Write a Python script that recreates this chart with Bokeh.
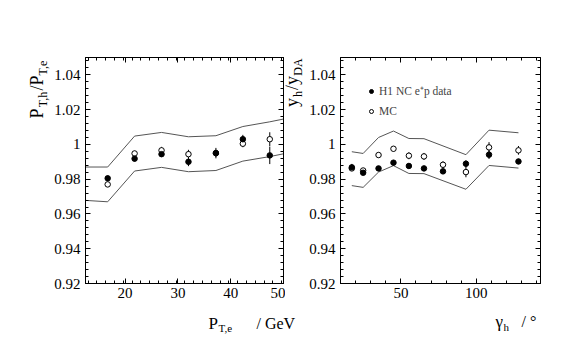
import numpy as np
from bokeh.plotting import figure
from bokeh.models import Range1d, LinearAxis, Legend, LegendItem, FixedTicker, ColumnDataSource
from bokeh.layouts import row, column
from bokeh.core.properties import value
from bokeh.embed import file_html
from bokeh.resources import INLINE

# ---- left panel: P_T,h / P_T,e vs P_T,e ----
pt_x = [16.7, 21.8, 26.9, 32.0, 37.2, 42.3, 47.4]
pt_data = [0.9805, 0.9918, 0.9944, 0.9900, 0.9950, 1.0030, 0.9937]
pt_data_err = [0.0015, 0.0015, 0.0015, 0.0025, 0.0030, 0.0025, 0.0050]
pt_mc = [0.9770, 0.9948, 0.9966, 0.9944, 0.9950, 1.0004, 1.0030]
pt_mc_err = [0.0010, 0.0015, 0.0020, 0.0025, 0.0020, 0.0020, 0.0040]
pt_band_x = [12.5, 16.7, 21.8, 26.9, 32.0, 37.2, 42.3, 47.4, 50.0]
pt_band_hi = [0.9870, 0.9870, 1.0048, 1.0069, 1.0044, 1.0050, 1.0103, 1.0130, 1.0146]
pt_band_lo = [0.9678, 0.9670, 0.9847, 0.9868, 0.9843, 0.9850, 0.9904, 0.9930, 0.9946]

# ---- right panel: y_h / y_DA vs gamma_h ----
g_x = [17.5, 25.0, 35.2, 45.1, 55.3, 65.3, 77.9, 93.1, 108.4, 127.9]
g_data = [0.9868, 0.9837, 0.9862, 0.9895, 0.9876, 0.9862, 0.9845, 0.9889, 0.9941, 0.9902]
g_data_err = [0.0020, 0.0012, 0.0012, 0.0015, 0.0015, 0.0015, 0.0015, 0.0020, 0.0025, 0.0015]
g_mc = [0.9862, 0.9850, 0.9939, 0.9975, 0.9935, 0.9931, 0.9883, 0.9841, 0.9983, 0.9966]
g_mc_err = [0.0012, 0.0010, 0.0015, 0.0015, 0.0020, 0.0020, 0.0020, 0.0030, 0.0030, 0.0025]
g_band_x = [17.5, 25.0, 35.2, 45.1, 55.3, 65.3, 93.1, 108.4, 127.9]
g_band_hi = [0.9958, 0.9948, 1.0040, 1.0077, 1.0034, 1.0033, 0.9941, 1.0082, 1.0067]
g_band_lo = [0.9763, 0.9753, 0.9841, 0.9878, 0.9833, 0.9832, 0.9742, 0.9879, 0.9864]

y_ticks = [0.92, 0.94, 0.96, 0.98, 1.0, 1.02, 1.04]
left_x_ticks = [20, 30, 40, 50]
right_x_ticks = [50, 100]

FONT = "Liberation Serif"
W = 567
H = 340
TOP_H = 308          # height of the plot row (page y 0..308)
FRAME_TOP = 57
FRAME_BOTTOM = 283


def style_axes(p, xticks, xminor, yticks, yminor, ystandoff):
    p.xaxis.ticker = FixedTicker(ticks=xticks, minor_ticks=xminor)
    p.yaxis.ticker = FixedTicker(ticks=yticks, minor_ticks=yminor)
    for ax in p.xaxis + p.yaxis:
        ax.major_tick_in = 5
        ax.major_tick_out = 0
        ax.minor_tick_in = 3
        ax.minor_tick_out = 0
        ax.axis_line_color = "black"
        ax.major_tick_line_color = "black"
        ax.minor_tick_line_color = "black"
        ax.major_label_text_font = FONT
        ax.major_label_text_font_size = "15px"
        ax.major_label_text_color = "black"
    p.yaxis.major_label_standoff = ystandoff
    p.xaxis.major_label_standoff = 4
    p.yaxis.major_label_overrides = {1.0: "1"}
    top = LinearAxis(ticker=FixedTicker(ticks=xticks, minor_ticks=xminor),
                     major_label_overrides={t: "" for t in xticks}, major_label_standoff=0,
                     major_tick_in=5, major_tick_out=0,
                     minor_tick_in=3, minor_tick_out=0, axis_line_color="black")
    right = LinearAxis(ticker=FixedTicker(ticks=yticks, minor_ticks=yminor),
                       major_label_overrides={t: "" for t in yticks}, major_label_standoff=0,
                       major_tick_in=5, major_tick_out=0,
                       minor_tick_in=3, minor_tick_out=0, axis_line_color="black")
    p.add_layout(top, "above")
    p.add_layout(right, "right")


def make_fig(width, bl, br, xr):
    p = figure(width=width, height=TOP_H, output_backend="svg", toolbar_location=None, title=None,
               x_range=Range1d(*xr), y_range=Range1d(0.92, 1.05),
               min_border_left=bl, min_border_right=br,
               min_border_top=FRAME_TOP, min_border_bottom=TOP_H - FRAME_BOTTOM)
    p.grid.visible = False
    p.outline_line_color = "black"
    p.background_fill_color = "white"
    p.border_fill_color = "white"
    return p


def text_fig(width, height, y0, y1, **kw):
    # y0..y1: page-derived coordinates covered by this strip's frame (measured from strip bottom)
    t = figure(width=width, height=height, output_backend="svg", toolbar_location=None, title=None,
               x_range=Range1d(0, width), y_range=Range1d(y0, y1),
               x_axis_type=None, y_axis_type=None, min_border=0, **kw)
    t.grid.visible = False
    t.outline_line_color = None
    t.background_fill_color = "white"
    t.border_fill_color = "white"
    return t


def put(t, left, bottom, text, x, y, size):
    # horizontal text: (x, y) = page position of the start of the baseline
    t.text(x=[x - left], y=[bottom - y], text=[text],
           text_font=value(FONT), text_font_size=value(f"{size}px"), text_color="black",
           text_align="left", text_baseline="alphabetic")


def put_v(t, left, bottom, text, cx, cy, size):
    # vertical text (reads bottom to top): (cx, cy) = page position of the text's centre
    t.text(x=[cx - left], y=[bottom - cy], text=[text], angle=np.pi / 2,
           text_font=value(FONT), text_font_size=value(f"{size}px"), text_color="black",
           text_align="center", text_baseline="middle")


def draw(p, x, d, de, m, me, bx, bhi, blo):
    p.line(bx, bhi, line_color="#555555", line_width=1)
    p.line(bx, blo, line_color="#555555", line_width=1)
    src = ColumnDataSource(dict(x=x, d=d, dlo=[a - b for a, b in zip(d, de)], dhi=[a + b for a, b in zip(d, de)],
                                m=m, mlo=[a - b for a, b in zip(m, me)], mhi=[a + b for a, b in zip(m, me)]))
    p.segment(x0="x", y0="mlo", x1="x", y1="mhi", source=src, line_color="black", line_width=1)
    p.segment(x0="x", y0="dlo", x1="x", y1="dhi", source=src, line_color="black", line_width=1)
    rm = p.scatter("x", "m", source=src, marker="circle", size=5.5, fill_color="white",
                   line_color="black", line_width=1)
    rd = p.scatter("x", "d", source=src, marker="circle", size=5.5, fill_color="black", line_color="black")
    return rd, rm


# the y-label strips sit in the same row as the panels, whose frames they share (page y 57..283)
STRIP_Y0 = TOP_H - FRAME_BOTTOM
STRIP_Y1 = TOP_H - FRAME_TOP

# ---------------- left block ----------------
YL1 = 50
p1 = make_fig(285 - YL1, 85 - YL1, 2, (12.5, 50))
style_axes(p1, left_x_ticks, list(np.arange(13, 50, 10 / 6)), y_ticks,
           list(np.arange(0.92, 1.0501, 0.004)), 5)
draw(p1, pt_x, pt_data, pt_data_err, pt_mc, pt_mc_err, pt_band_x, pt_band_hi, pt_band_lo)

ylab1 = text_fig(YL1, TOP_H, STRIP_Y0, STRIP_Y1,
                 min_border_top=FRAME_TOP, min_border_bottom=TOP_H - FRAME_BOTTOM)
put_v(ylab1, 0, TOP_H, "P", 36.8, 113, 18)
put_v(ylab1, 0, TOP_H, "T,h", 42.7, 99, 12)
put_v(ylab1, 0, TOP_H, "/P", 36.8, 82.5, 18)
put_v(ylab1, 0, TOP_H, "T,e", 42.7, 67.5, 12)

# ---------------- right block ----------------
YL2 = 20
p2 = make_fig(282 - YL2, 340 - 285 - YL2, 27, (10, 142.5))
style_axes(p2, right_x_ticks, [20, 30, 40, 60, 70, 80, 90, 110, 120, 130, 140], y_ticks,
           list(np.arange(0.92, 1.0501, 0.004)), 5)
rd, rm = draw(p2, g_x, g_data, g_data_err, g_mc, g_mc_err, g_band_x, g_band_hi, g_band_lo)
leg = Legend(items=[LegendItem(label="H1 NC e\u207ap data", renderers=[rd]),
                    LegendItem(label="MC", renderers=[rm])],
             location=(26, 165), background_fill_alpha=0, border_line_alpha=0,
             label_text_font=FONT, label_text_font_size="11.5px", glyph_width=10, glyph_height=14,
             label_height=14, spacing=6, padding=0, margin=0, label_standoff=3)
p2.add_layout(leg)

ylab2 = text_fig(YL2, TOP_H, STRIP_Y0, STRIP_Y1,
                 min_border_top=FRAME_TOP, min_border_bottom=TOP_H - FRAME_BOTTOM)
put_v(ylab2, 285, TOP_H, "y", 291, 102, 18)
put_v(ylab2, 285, TOP_H, "h", 297.3, 93.5, 12)
put_v(ylab2, 285, TOP_H, "/y", 291, 82.5, 18)
put_v(ylab2, 285, TOP_H, "DA", 297.3, 66.5, 12)

# ---------------- x titles (full width strip) ----------------
xlab = text_fig(W, H - TOP_H, 0, H - TOP_H)
put(xlab, 0, H, "P", 208, 323, 17)
put(xlab, 0, H, "T,e", 218, 327, 11)
put(xlab, 0, H, "/ GeV", 256, 323, 16)
put(xlab, 0, H, "\u03b3", 495, 321, 17)
put(xlab, 0, H, "h", 503, 326, 11)
put(xlab, 0, H, "/ \u00b0", 521, 321, 16)

layout = column(row(ylab1, p1, ylab2, p2), xlab)
open("out.html", "w").write(file_html(layout, INLINE))
